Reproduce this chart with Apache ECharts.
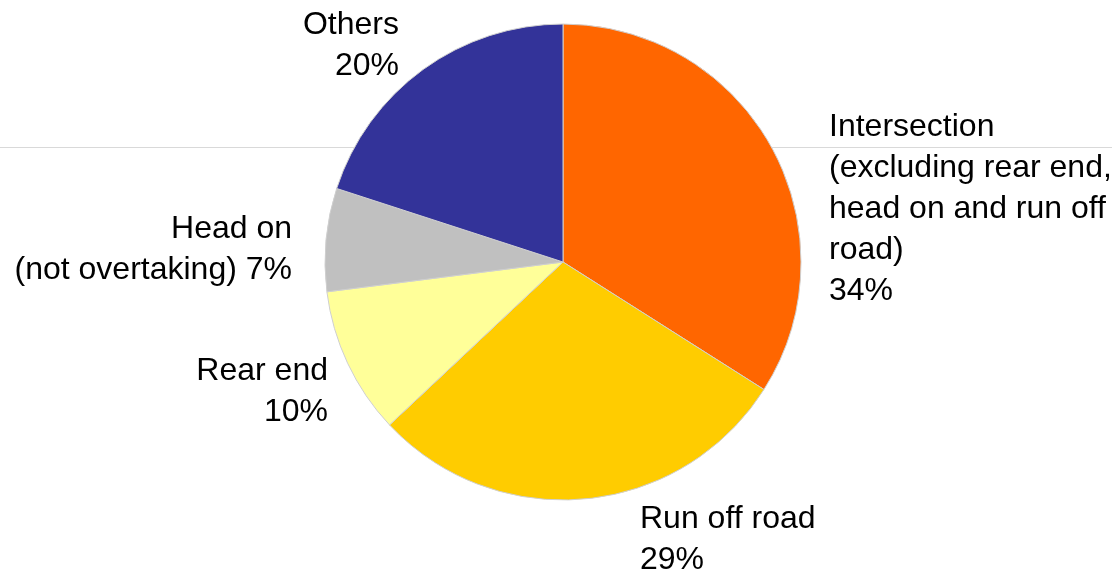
<!DOCTYPE html>
<html>
<head>
<meta charset="utf-8">
<script src="https://cdn.jsdelivr.net/npm/echarts@6/dist/echarts.min.js"></script>
<style>
  html, body { margin: 0; padding: 0; background: #fff; }
  #pieChart { width: 1112px; height: 574px; }
</style>
</head>
<body>
<div id="pieChart"></div>
<script>
  // crash types, clockwise from 12 o'clock
  const categories = ['Intersection', 'Run off road', 'Rear end', 'Head on', 'Others'];
  const labelText = [
    'Intersection\n(excluding rear end,\nhead on and run off\nroad)',
    'Run off road',
    'Rear end',
    'Head on\n(not overtaking)',
    'Others'
  ];
  const values = [34, 29, 10, 7, 20];
  const colors = ['#FF6600', '#FFCC00', '#FFFF99', '#C0C0C0', '#333399'];

  // where each label sits: [x, y(top), align]
  const labelPos = [
    [829, 107, 'left'],
    [640, 499, 'left'],
    [328, 351, 'right'],
    [292, 209, 'right'],
    [399, 5, 'right']
  ];

  const chart = echarts.init(document.getElementById('pieChart'));
  const option = {
    animation: false,
    graphic: [{
      type: 'line',
      z: -10,
      shape: { x1: 0, y1: 147.5, x2: 1112, y2: 147.5 },
      style: { stroke: '#d9d9d9', lineWidth: 1 }
    }],
    series: [{
      type: 'pie',
      center: [563, 262],
      radius: 238,
      startAngle: 90,
      clockwise: true,
      data: categories.map((c, i) => ({
        name: c,
        value: values[i],
        itemStyle: { color: colors[i] }
      })),
      itemStyle: { borderColor: '#cfcfcf', borderWidth: 1 },
      emphasis: { disabled: true },
      label: {
        show: true,
        position: 'outside',
        color: '#000',
        fontFamily: 'Liberation Sans, Arial, sans-serif',
        fontSize: 32,
        lineHeight: 41,
        overflow: 'none',
        formatter: (p) => labelText[p.dataIndex] + (p.dataIndex === 3 ? ' ' : '\n') + p.value + '%'
      },
      labelLine: { show: false },
      labelLayout: (p) => ({
        x: labelPos[p.dataIndex][0],
        y: labelPos[p.dataIndex][1],
        align: labelPos[p.dataIndex][2],
        verticalAlign: 'top'
      })
    }]
  };
  chart.setOption(option);
  window.onresize = function () {
    chart.resize();
  };
</script>
</body>
</html>
